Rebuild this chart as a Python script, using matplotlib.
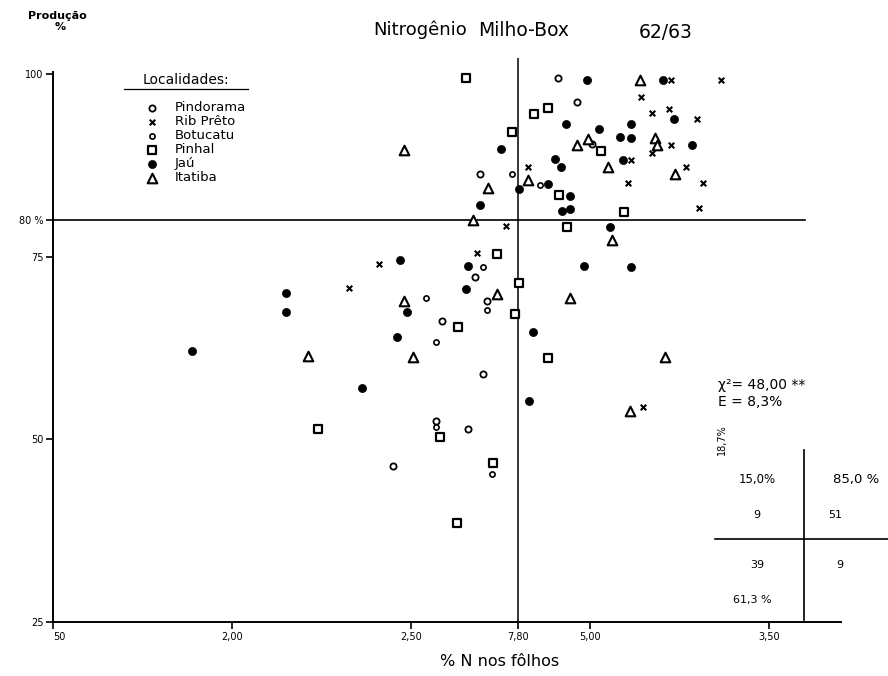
import matplotlib
matplotlib.use('Agg')
import matplotlib.pyplot as plt
from matplotlib.lines import Line2D

W, H = 888, 676

# values: % N in leaves (x) vs relative yield % (y)
pindorama_x = [2.911, 2.964, 3.006, 2.693, 2.679, 2.712, 2.587, 2.701, 2.659, 2.450, 2.570]
pindorama_y = [99.5, 96.2, 90.5, 86.4, 72.3, 69.0, 66.2, 59.0, 51.4, 46.4, 52.5]

rib_preto_x = [3.226, 3.366, 3.142, 3.173, 3.221, 3.299, 3.226, 3.173, 2.827, 3.115,
               3.268, 3.106, 3.316, 3.304, 2.765, 2.684, 2.411, 2.327, 3.148]
rib_preto_y = [99.2, 99.2, 96.9, 94.7, 95.3, 93.9, 90.3, 89.2, 87.3, 88.3,
               87.3, 85.1, 85.1, 81.7, 79.2, 75.5, 74.0, 70.8, 54.5]

botucatu_x = [2.782, 2.860, 2.701, 2.542, 2.712, 2.570, 2.570, 2.726]
botucatu_y = [86.4, 84.9, 73.6, 69.4, 67.7, 63.4, 51.7, 45.3]

pinhal_x = [2.654, 2.883, 2.844, 2.782, 3.031, 2.913, 3.095, 2.936, 2.740, 2.802,
            2.791, 2.631, 2.883, 2.240, 2.581, 2.729, 2.628]
pinhal_y = [99.5, 95.4, 94.6, 92.1, 89.5, 83.5, 81.2, 79.1, 75.4, 71.4,
            67.2, 65.4, 61.2, 51.4, 50.3, 46.8, 38.6]

jau_x = [2.992, 3.204, 3.235, 2.933, 3.115, 3.025, 3.084, 3.115, 3.285, 2.751,
         2.902, 2.919, 3.092, 2.802, 2.883, 2.944, 2.693, 2.922, 2.944, 3.056,
         2.469, 2.659, 2.983, 3.115, 2.654, 2.489, 2.461, 2.841, 2.830, 2.151,
         2.151, 1.888, 2.363]
jau_y = [99.2, 99.2, 93.9, 93.2, 93.2, 92.5, 91.4, 91.3, 90.3, 89.8,
         88.4, 87.3, 88.3, 84.3, 85.0, 83.4, 82.1, 81.3, 81.6, 79.1,
         74.6, 73.8, 73.8, 73.6, 70.6, 67.5, 64.0, 64.7, 55.3, 70.1,
         67.5, 62.1, 57.1]

itatiba_x = [3.140, 3.182, 3.187, 2.964, 2.994, 3.050, 3.237, 2.827, 2.715, 2.673,
             3.061, 2.740, 2.944, 2.480, 2.212, 2.506, 3.210, 3.112, 2.480]
itatiba_y = [99.3, 91.3, 90.3, 90.3, 91.2, 87.3, 86.4, 85.5, 84.5, 80.1,
             77.3, 69.9, 69.4, 69.0, 61.4, 61.3, 61.3, 53.9, 89.7]

n_crit = 2.80
y_crit = 80
xticks = [1.5, 2.0, 2.5, 2.8, 3.0, 3.5]
xtick_labels = ['50', '2,00', '2,50', '7,80', '5,00', '3,50']
yticks = [25, 50, 75, 80, 100]
ytick_labels = ['25', '50', '75', '80 %', '100']


def fx(px):
    return px / W


def fy(py):
    return 1 - py / H


fig = plt.figure(figsize=(W / 100, H / 100), dpi=100)
ax = fig.add_axes([fx(53), fy(622), (840.6 - 53) / W, (622 - 58) / H])
ax.set_xlim(1.5, 3.7)
ax.set_ylim(25, 102.26)

for s in ['top', 'right']:
    ax.spines[s].set_visible(False)
ax.spines['left'].set_bounds(25, 100.3)
for s in ['left', 'bottom']:
    ax.spines[s].set_linewidth(1.4)

# critical lines
ax.plot([1.5, 3.6], [y_crit, y_crit], color='k', lw=1.2)
ax.plot([n_crit, n_crit], [25, 102.26], color='k', lw=1.1)

ms = dict(edgecolors='k', zorder=3)
ax.scatter(pindorama_x, pindorama_y, s=20, marker='o', facecolors='white', linewidths=1.3, label='Pindorama', **ms)
ax.scatter(rib_preto_x, rib_preto_y, s=16, marker='x', c='k', linewidths=1.5, label='Rib Prêto', zorder=3)
ax.scatter(botucatu_x, botucatu_y, s=14, marker='o', facecolors='white', linewidths=1.2, label='Botucatu', **ms)
ax.scatter(pinhal_x, pinhal_y, s=30, marker='s', facecolors='white', linewidths=1.6, label='Pinhal', **ms)
ax.scatter(jau_x, jau_y, s=34, marker='o', facecolors='k', linewidths=0.5, label='Jaú', **ms)
ax.scatter(itatiba_x, itatiba_y, s=48, marker='^', facecolors='white', linewidths=1.5, label='Itatiba', **ms)

ax.set_xticks(xticks)
ax.set_xticklabels(xtick_labels)
ax.set_yticks(yticks)
ax.set_yticklabels(ytick_labels)
ax.tick_params(axis='both', direction='out', length=5, width=1.2, labelsize=7, pad=2)
ax.get_xticklabels()[0].set_ha('left')

leg = ax.legend(loc='upper left', bbox_to_anchor=(fx(145), fy(101)), bbox_transform=fig.transFigure,
                frameon=False, fontsize=9.5, handlelength=1.0, handletextpad=1.25,
                labelspacing=0.08, borderpad=0, borderaxespad=0, scatterpoints=1)

# legend heading, underlined
fig.text(fx(186), fy(80), 'Localidades:', ha='center', va='center', fontsize=10)
fig.add_artist(Line2D([fx(124), fx(248)], [fy(89), fy(89)], color='k', lw=0.9))

# title
fig.text(fx(420), fy(30), 'Nitrogênio', ha='center', va='center', fontsize=13)
fig.text(fx(524), fy(30), 'Milho-Box', ha='center', va='center', fontsize=13.5)
fig.text(fx(666), fy(32), '62/63', ha='center', va='center', fontsize=13.5)

# axis titles
fig.text(fx(57), fy(16), 'Produção', ha='center', va='center', fontsize=8, fontweight='bold')
fig.text(fx(60), fy(27), '%', ha='center', va='center', fontsize=8, fontweight='bold')
fig.text(fx(500), fy(662), '% N nos fôlhos', ha='center', va='center', fontsize=11.5)

# statistics
fig.text(fx(718), fy(385), 'χ²= 48,00 **', ha='left', va='center', fontsize=10)
fig.text(fx(718), fy(402), 'E = 8,3%', ha='left', va='center', fontsize=10)

# contingency table of the four quadrants
fig.add_artist(Line2D([fx(804), fx(804)], [fy(450), fy(620)], color='k', lw=1.2))
fig.add_artist(Line2D([fx(715), fx(888)], [fy(539), fy(539)], color='k', lw=1.2))
fig.text(fx(722), fy(440), '18,7%', ha='center', va='center', fontsize=7, rotation=90)
fig.text(fx(757), fy(480), '15,0%', ha='center', va='center', fontsize=8.5)
fig.text(fx(856), fy(480), '85,0 %', ha='center', va='center', fontsize=9.5)
fig.text(fx(757), fy(515), '9', ha='center', va='center', fontsize=8)
fig.text(fx(835), fy(515), '51', ha='center', va='center', fontsize=8)
fig.text(fx(757), fy(565), '39', ha='center', va='center', fontsize=8)
fig.text(fx(840), fy(565), '9', ha='center', va='center', fontsize=8)
fig.text(fx(752), fy(600), '61,3 %', ha='center', va='center', fontsize=8)

fig.savefig('out.png', dpi=100, facecolor='white')
